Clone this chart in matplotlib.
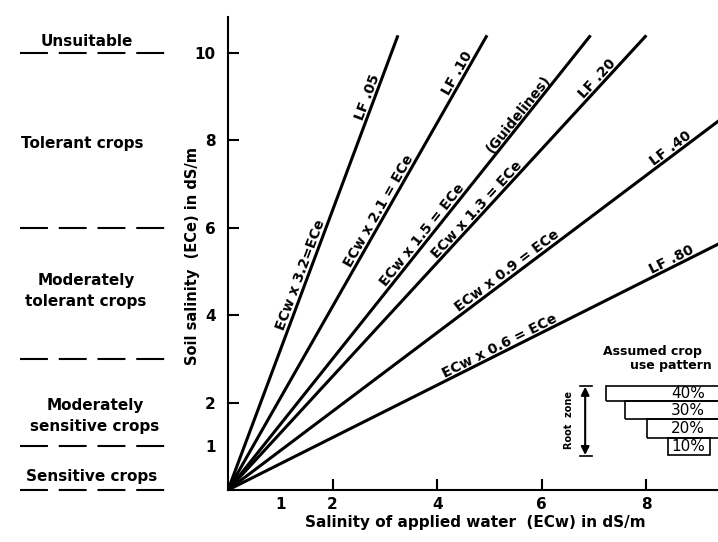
import matplotlib
matplotlib.use("Agg")
import matplotlib.pyplot as plt
import numpy as np
from matplotlib.patches import Rectangle
from matplotlib.transforms import blended_transform_factory

# ============================
# Data
# ============================
# ECe = ECw x ratio, one line per leaching fraction
ratios = [3.2, 2.1, 1.5, 1.3, 0.9, 0.6]
ratio_labels = ["ECw x 3.2=ECe", "ECw x 2.1 = ECe", "ECw x 1.5 = ECe",
                "ECw x 1.3 = ECe", "ECw x 0.9 = ECe", "ECw x 0.6 = ECe"]
lf_labels = ["LF .05", "LF .10", "(Guidelines)", "LF .20", "LF .40", "LF .80"]

# crop tolerance classes (ECe thresholds, dS/m)
class_limits = [0, 1, 3, 6, 10]
class_names = ["Sensitive crops", "Moderately\nsensitive crops",
               "Moderately\ntolerant crops", "Tolerant crops", "Unsuitable"]

# assumed crop water use pattern
use_pattern = ["40%", "30%", "20%", "10%"]

x_ticks = [1, 2, 4, 6, 8]
y_ticks = [1, 2, 4, 6, 8, 10]

# ============================
# Layout
# ============================
W, H = 718, 542
ax_left, ax_bottom_px, ax_top_px = 228, 490, 17
x_max, y_max = 9.37, 10.82
line_top = 10.4

ratio_label_x = [1.52, 3.0, 3.82, 4.85, 5.42, 5.25]
lf_label_x = [2.79, 4.5, 5.66, 7.16, 8.55, 8.55]
class_label_y = [0.3, 1.69, 4.55, 7.92, 10.27]
class_label_x = [92, 95, 86, 82, 87]

font = dict(family="DejaVu Sans", weight="bold")

fig = plt.figure(figsize=(W / 100, H / 100), dpi=100)
ax = fig.add_axes([ax_left / W, 1 - ax_bottom_px / H,
                   (W - ax_left) / W, (ax_bottom_px - ax_top_px) / H])
ax.set_xlim(0, x_max)
ax.set_ylim(0, y_max)

for s in ["top", "right"]:
    ax.spines[s].set_visible(False)
for s in ["left", "bottom"]:
    ax.spines[s].set_linewidth(1.5)

# ============================
# Lines + labels
# ============================
for r, lab, lf, lx, fx in zip(ratios, ratio_labels, lf_labels, ratio_label_x, lf_label_x):
    x_end = min(line_top / r, x_max + 0.1)
    xs = np.array([0, x_end])
    ax.plot(xs, r * xs, color="black", lw=2.2, solid_capstyle="butt")
    ang = np.degrees(np.arctan(r))
    ax.text(lx, r * lx, lab, rotation=ang, transform_rotates_text=True,
            rotation_mode="anchor", ha="center", va="bottom", fontsize=10, **font)
    ax.text(fx, r * fx, lf, rotation=ang, transform_rotates_text=True,
            rotation_mode="anchor", ha="center", va="bottom", fontsize=10, **font)

# ============================
# Ticks
# ============================
ax.set_xticks(x_ticks)
ax.set_yticks(y_ticks)
ax.tick_params(direction="in", length=8, width=1.5, labelsize=11)
ax.tick_params(axis="x", pad=5)
ax.tick_params(axis="y", pad=9)
for lbl in ax.get_xticklabels() + ax.get_yticklabels():
    lbl.set_fontweight("bold")
ax.xaxis.get_major_ticks()[0].tick1line.set_visible(False)
ax.yaxis.get_major_ticks()[0].tick1line.set_visible(False)

fig.text(475 / W, 1 - 523 / H, "Salinity of applied water  (ECw) in dS/m",
         ha="center", va="center", fontsize=11, **font)
fig.text(193 / W, 1 - 256 / H, "Soil salinity  (ECe) in dS/m", rotation=90,
         ha="center", va="center", fontsize=10.5, **font)

# ============================
# Crop classes on the left
# ============================
trans = blended_transform_factory(fig.transFigure, ax.transData)
for y in class_limits:
    ax.plot([20 / W, 165 / W], [y, y], transform=trans, clip_on=False,
            color="black", lw=1.5, linestyle=(0, (13.4, 5.2)))
for name, y, px in zip(class_names, class_label_y, class_label_x):
    ax.text(px / W, y, name, transform=trans, ha="center", va="center",
            fontsize=11, linespacing=1.45, **font)

# ============================
# Inset: assumed crop use pattern
# ============================
box_left = [7.22, 7.59, 8.01, 8.41]
box_top = [2.39, 2.04, 1.62, 1.20]
box_bot = [2.04, 1.62, 1.20, 0.80]
for i, (pct, bl, bt, bb) in enumerate(zip(use_pattern, box_left, box_top, box_bot)):
    right = 9.22 if i == len(use_pattern) - 1 else 9.8
    ax.add_patch(Rectangle((bl, bb), right - bl, bt - bb, fill=False,
                           lw=1.2, edgecolor="black"))
    ax.text(8.8, (bt + bb) / 2, pct, ha="center", va="center", fontsize=11)

ax.text(7.17, 3.16, "Assumed crop", ha="left", va="center", fontsize=9,
        clip_on=False, **font)
ax.text(7.69, 2.84, "use pattern", ha="left", va="center", fontsize=9,
        clip_on=False, **font)

ax.annotate("", xy=(6.83, 0.80), xytext=(6.83, 2.36),
            arrowprops=dict(arrowstyle="<|-|>", color="black", lw=1.5,
                            mutation_scale=12, shrinkA=0, shrinkB=0))
ax.plot([6.73, 6.96], [2.38, 2.38], color="black", lw=1.2)
ax.plot([6.73, 6.96], [0.78, 0.78], color="black", lw=1.2)
ax.text(6.52, 1.6, "Root  zone", rotation=90, ha="center", va="center",
        fontsize=7, **font)

fig.savefig("out.png", dpi=100)
